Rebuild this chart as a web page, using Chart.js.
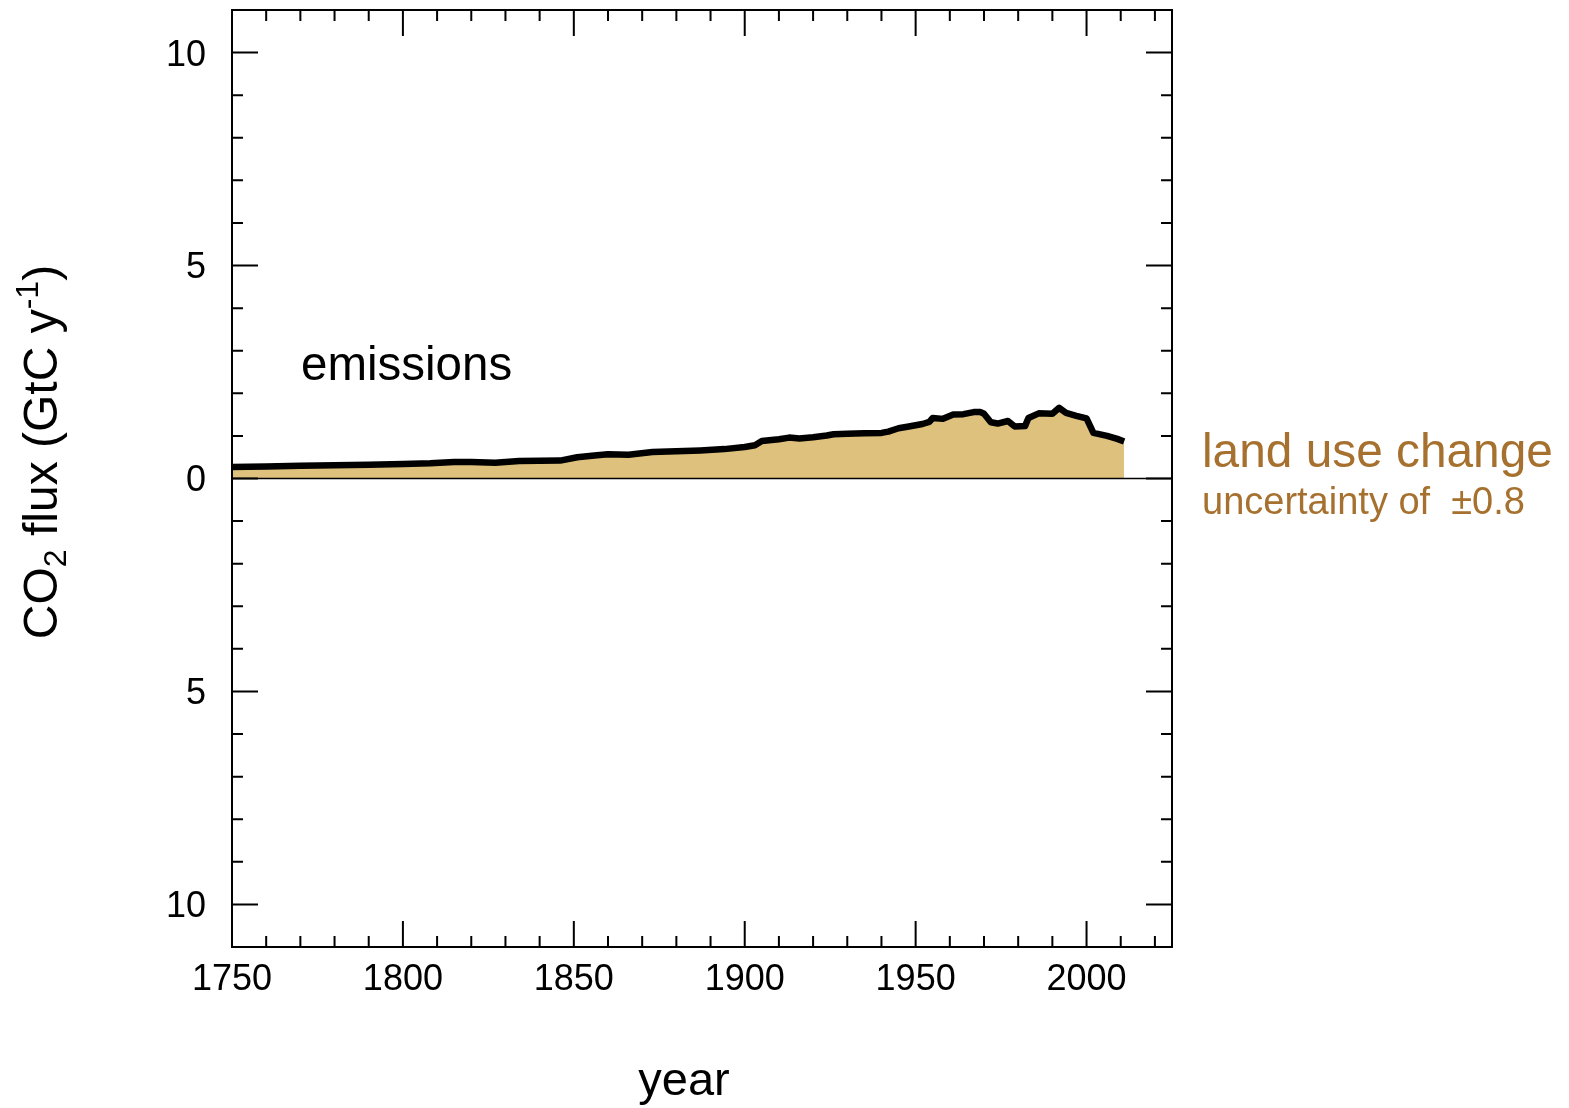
<!DOCTYPE html>
<html>
<head>
<meta charset="utf-8">
<title>CO2 flux - land use change</title>
<script src="https://cdn.jsdelivr.net/npm/chart.js@4.4.1/dist/chart.umd.min.js"></script>
<style>
    html, body { margin: 0; padding: 0; background: #fff; }
    #wrap { position: relative; width: 1569px; height: 1108px; }
</style>
</head>
<body>
<div id="wrap"><canvas id="fluxChart" width="1569" height="1108"></canvas></div>
<script>
(function () {
    'use strict';

    // land use change emissions, GtC per year
    var years = [1750, 1760, 1770, 1780, 1790, 1800, 1808, 1815, 1820, 1827, 1834, 1846, 1851, 1856, 1860, 1866,
        1873, 1880, 1887, 1894, 1900, 1903, 1905, 1910, 1913, 1916, 1920, 1924, 1926, 1930, 1935, 1940, 1942,
        1945, 1948, 1952, 1954, 1955, 1958, 1961, 1964, 1967, 1969, 1970, 1972, 1974, 1977, 1979, 1982, 1983,
        1986, 1990, 1992, 1994, 1997, 2000, 2002, 2006, 2009, 2011];
    var landUseFlux = [0.27, 0.28, 0.30, 0.31, 0.32, 0.34, 0.36, 0.39, 0.39, 0.37, 0.41, 0.42, 0.50, 0.54, 0.57, 0.56,
        0.62, 0.64, 0.66, 0.69, 0.74, 0.78, 0.88, 0.92, 0.96, 0.94, 0.97, 1.01, 1.04, 1.05, 1.06, 1.07, 1.10,
        1.18, 1.22, 1.28, 1.33, 1.42, 1.40, 1.50, 1.51, 1.56, 1.56, 1.52, 1.32, 1.29, 1.35, 1.22, 1.23, 1.42,
        1.53, 1.52, 1.66, 1.54, 1.47, 1.41, 1.07, 1.00, 0.93, 0.87];

    var xMajorTicks = [1750, 1800, 1850, 1900, 1950, 2000];
    var xMinorTicks = [1760, 1770, 1780, 1790, 1810, 1820, 1830, 1840, 1860, 1870, 1880, 1890, 1910, 1920,
        1930, 1940, 1960, 1970, 1980, 1990, 2010, 2020];
    var yMajorTicks = [-10, -5, 0, 5, 10];
    var yMinorTicks = [-9, -8, -7, -6, -4, -3, -2, -1, 1, 2, 3, 4, 6, 7, 8, 9];

    var FONT = "'Liberation Sans', Arial, Helvetica, sans-serif";
    var FILL = '#dec17c';
    var BROWN = '#a6702e';

    var points = years.map(function (y, i) { return { x: y, y: landUseFlux[i] }; });

    function font(size) { return size + 'px ' + FONT; }

    var framePlugin = {
        id: 'frame',
        afterDatasetsDraw: function (chart) {
            var ctx = chart.ctx;
            var a = chart.chartArea;
            var xs = chart.scales.x, ys = chart.scales.y;
            ctx.save();
            ctx.strokeStyle = '#000';

            // zero line
            var y0 = ys.getPixelForValue(0);
            ctx.lineWidth = 1.5;
            ctx.beginPath();
            ctx.moveTo(a.left, y0);
            ctx.lineTo(a.right, y0);
            ctx.stroke();

            // box
            ctx.lineWidth = 2;
            ctx.strokeRect(a.left, a.top, a.right - a.left, a.bottom - a.top);

            // inward ticks on all four sides
            function xTick(v, len) {
                var px = xs.getPixelForValue(v);
                ctx.moveTo(px, a.bottom); ctx.lineTo(px, a.bottom - len);
                ctx.moveTo(px, a.top); ctx.lineTo(px, a.top + len);
            }
            function yTick(v, len) {
                var py = ys.getPixelForValue(v);
                ctx.moveTo(a.left, py); ctx.lineTo(a.left + len, py);
                ctx.moveTo(a.right, py); ctx.lineTo(a.right - len, py);
            }
            ctx.beginPath();
            xMajorTicks.forEach(function (v) { xTick(v, 26); });
            xMinorTicks.forEach(function (v) { xTick(v, 11); });
            yMajorTicks.forEach(function (v) { yTick(v, 26); });
            yMinorTicks.forEach(function (v) { yTick(v, 11); });
            ctx.stroke();
            ctx.restore();
        },
        afterDraw: function (chart) {
            var ctx = chart.ctx;
            ctx.save();
            ctx.textBaseline = 'alphabetic';

            ctx.fillStyle = '#000';
            ctx.textAlign = 'left';
            ctx.font = font(47.5);
            ctx.fillText('emissions', 301, 380);

            ctx.textAlign = 'center';
            ctx.font = font(47);
            ctx.fillText('year', 684, 1095);

            ctx.fillStyle = BROWN;
            ctx.textAlign = 'left';
            ctx.font = font(47.8);
            ctx.fillText('land use change', 1202, 467);
            ctx.font = font(38);
            ctx.fillText('uncertainty of  \u00b10.8', 1202, 514);

            // rotated y title with sub/superscript
            var parts = [
                { t: 'CO', s: 48, dy: 0 },
                { t: '2', s: 32, dy: 9 },
                { t: ' flux (GtC y', s: 48, dy: 0 },
                { t: '-1', s: 32, dy: -19 },
                { t: ')', s: 48, dy: 0 }
            ];
            ctx.fillStyle = '#000';
            ctx.translate(57, 452);
            ctx.rotate(-Math.PI / 2);
            var total = 0;
            parts.forEach(function (p) { ctx.font = font(p.s); p.w = ctx.measureText(p.t).width; total += p.w; });
            var cx = -total / 2;
            parts.forEach(function (p) {
                ctx.font = font(p.s);
                ctx.fillText(p.t, cx, p.dy);
                cx += p.w;
            });
            ctx.restore();
        }
    };

    new Chart(document.getElementById('fluxChart'), {
        type: 'line',
        data: {
            datasets: [{
                label: 'land use change',
                data: points,
                borderColor: '#000',
                borderWidth: 6.5,
                borderJoinStyle: 'round',
                backgroundColor: FILL,
                fill: 'origin',
                pointRadius: 0,
                tension: 0
            }]
        },
        options: {
            responsive: false,
            animation: false,
            devicePixelRatio: 1,
            layout: { padding: { top: 10, right: 397, bottom: 0, left: 0 } },
            plugins: { legend: { display: false }, tooltip: { enabled: false } },
            scales: {
                x: {
                    type: 'linear',
                    min: 1750,
                    max: 2025,
                    grid: { display: false, drawTicks: false },
                    border: { display: false },
                    afterBuildTicks: function (s) { s.ticks = xMajorTicks.map(function (v) { return { value: v }; }); },
                    afterFit: function (s) { s.height = 161; s.paddingLeft = 0; s.paddingRight = 0; },
                    ticks: {
                        autoSkip: false,
                        maxRotation: 0,
                        padding: 11,
                        color: '#000',
                        font: { family: FONT, size: 36 },
                        callback: function (v) { return String(v); }
                    }
                },
                y: {
                    min: -11,
                    max: 11,
                    grid: { display: false, drawTicks: false },
                    border: { display: false },
                    afterBuildTicks: function (s) { s.ticks = yMajorTicks.map(function (v) { return { value: v }; }); },
                    afterFit: function (s) { s.width = 232; s.paddingTop = 0; s.paddingBottom = 0; },
                    ticks: {
                        padding: 26,
                        labelOffset: 3,
                        color: '#000',
                        font: { family: FONT, size: 36 },
                        callback: function (v) { return String(Math.abs(v)); }
                    }
                }
            }
        },
        plugins: [framePlugin]
    });
})();
</script>
</body>
</html>
